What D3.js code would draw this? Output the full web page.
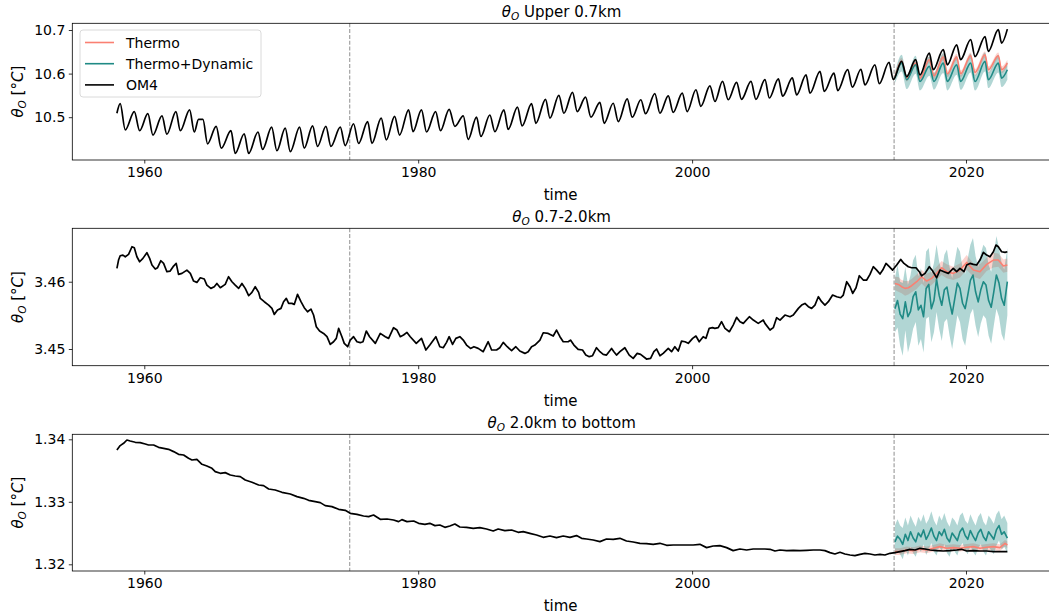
<!DOCTYPE html>
<html>
<head>
<meta charset="utf-8">
<script src="https://cdn.jsdelivr.net/npm/d3@7"></script>
<style>
  body { margin: 0; background: #fff; }
  svg { font-family: "DejaVu Sans", sans-serif; }
</style>
</head>
<body>
<svg id="chart" width="1049" height="615"></svg>
<script>
'use strict';

// OM4 reference run, [year, degC]
var upperOM4 = [
  [1958.00,10.509],[1958.24,10.531],[1958.61,10.471],[1959.27,10.513],[1959.66,10.469],[1960.26,10.508],[1960.63,10.459],
  [1961.29,10.503],[1961.65,10.461],[1962.31,10.513],[1962.63,10.469],[1963.31,10.517],[1963.65,10.466],[1963.96,10.495],
  [1964.28,10.495],[1964.62,10.439],[1965.25,10.479],[1965.62,10.429],[1966.33,10.469],[1966.64,10.417],[1967.30,10.462],
  [1967.62,10.417],[1968.30,10.466],[1968.64,10.426],[1969.30,10.477],[1969.68,10.423],[1970.29,10.475],[1970.66,10.421],
  [1971.34,10.477],[1971.68,10.429],[1972.29,10.480],[1972.65,10.433],[1973.26,10.479],[1973.63,10.433],[1974.31,10.477],
  [1974.67,10.435],[1975.28,10.485],[1975.65,10.440],[1976.31,10.490],[1976.62,10.440],[1977.30,10.498],[1977.67,10.448],
  [1978.28,10.502],[1978.64,10.459],[1979.30,10.517],[1979.62,10.467],[1980.24,10.517],[1980.61,10.466],[1981.27,10.513],
  [1981.63,10.469],[1982.26,10.518],[1982.68,10.479],[1983.29,10.503],[1983.65,10.449],[1984.26,10.500],[1984.58,10.456],
  [1985.23,10.505],[1985.60,10.467],[1986.26,10.517],[1986.57,10.472],[1987.25,10.523],[1987.59,10.480],[1988.28,10.531],
  [1988.59,10.486],[1989.30,10.541],[1989.62,10.498],[1990.27,10.550],[1990.64,10.509],[1991.27,10.557],[1991.61,10.513],
  [1992.22,10.546],[1992.61,10.500],[1993.27,10.534],[1993.58,10.486],[1994.24,10.532],[1994.61,10.490],[1995.26,10.542],
  [1995.63,10.500],[1996.26,10.540],[1996.60,10.508],[1997.28,10.554],[1997.65,10.509],[1998.26,10.549],[1998.62,10.511],
  [1999.28,10.555],[1999.64,10.513],[2000.28,10.563],[2000.64,10.525],[2001.30,10.572],[2001.67,10.536],[2002.22,10.582],
  [2002.64,10.540],[2003.25,10.580],[2003.61,10.541],[2004.30,10.582],[2004.66,10.541],[2005.32,10.586],[2005.64,10.544],
  [2006.30,10.588],[2006.61,10.548],[2007.32,10.590],[2007.63,10.551],[2008.32,10.597],[2008.61,10.555],[2009.34,10.605],
  [2009.65,10.559],[2010.36,10.601],[2010.63,10.561],[2011.36,10.609],[2011.70,10.569],[2012.33,10.610],[2012.62,10.574],
  [2013.35,10.620],[2013.67,10.577],[2014.38,10.626],[2014.69,10.586],[2015.30,10.628],[2015.67,10.593],[2016.32,10.632],
  [2016.64,10.597],[2017.32,10.647],[2017.61,10.609],[2018.34,10.655],[2018.64,10.620],[2019.32,10.666],[2019.61,10.632],
  [2020.34,10.678],[2020.66,10.639],[2021.39,10.685],[2021.63,10.651],[2022.36,10.701],[2022.60,10.670],[2023.02,10.702]
];

var midOM4 = [
  [1958.00,3.46198],[1958.12,3.46322],[1958.24,3.46386],[1958.44,3.46396],[1958.61,3.46371],[1958.85,3.46406],[1959.10,3.46520],
  [1959.27,3.46505],[1959.46,3.46371],[1959.66,3.46297],[1959.90,3.46347],[1960.19,3.46431],[1960.39,3.46347],[1960.56,3.46248],
  [1960.80,3.46188],[1960.97,3.46208],[1961.21,3.46312],[1961.41,3.46272],[1961.65,3.46149],[1961.89,3.46158],[1962.14,3.46233],
  [1962.33,3.46272],[1962.50,3.46109],[1962.75,3.46124],[1963.11,3.46173],[1963.36,3.46124],[1963.60,3.46010],[1963.84,3.45990],
  [1964.09,3.46059],[1964.38,3.46040],[1964.57,3.45950],[1964.86,3.45901],[1965.11,3.45926],[1965.30,3.45975],[1965.55,3.45911],
  [1965.91,3.45960],[1966.15,3.46074],[1966.40,3.46000],[1966.64,3.45950],[1966.89,3.45901],[1967.13,3.45975],[1967.37,3.45901],
  [1967.62,3.45792],[1967.86,3.45842],[1968.10,3.45926],[1968.35,3.45842],[1968.47,3.45752],[1968.76,3.45703],[1969.08,3.45653],
  [1969.32,3.45604],[1969.49,3.45515],[1969.73,3.45579],[1969.98,3.45604],[1970.17,3.45703],[1970.37,3.45752],[1970.54,3.45678],
  [1970.78,3.45678],[1970.95,3.45663],[1971.19,3.45812],[1971.44,3.45703],[1971.68,3.45614],[1971.92,3.45554],[1972.17,3.45594],
  [1972.36,3.45505],[1972.56,3.45331],[1972.80,3.45267],[1973.09,3.45232],[1973.34,3.45183],[1973.58,3.45069],[1973.82,3.45108],
  [1974.02,3.45158],[1974.19,3.45307],[1974.43,3.45183],[1974.60,3.45084],[1974.85,3.45034],[1975.04,3.45133],[1975.28,3.45183],
  [1975.53,3.45108],[1975.77,3.45094],[1975.97,3.45108],[1976.21,3.45267],[1976.45,3.45183],[1976.87,3.45084],[1977.23,3.45232],
  [1977.60,3.45183],[1977.84,3.45158],[1978.20,3.45317],[1978.45,3.45282],[1978.69,3.45183],[1978.93,3.45208],[1979.18,3.45247],
  [1979.42,3.45183],[1979.86,3.45084],[1980.24,3.45158],[1980.56,3.44985],[1980.85,3.45059],[1981.29,3.45183],[1981.58,3.45034],
  [1981.83,3.45019],[1982.07,3.45099],[1982.26,3.45183],[1982.51,3.45069],[1982.75,3.45158],[1983.04,3.45183],[1983.29,3.45133],
  [1983.53,3.45059],[1983.82,3.45009],[1984.07,3.45034],[1984.38,3.45009],[1984.75,3.44960],[1985.11,3.45108],[1985.36,3.44985],
  [1985.72,3.44985],[1985.96,3.45019],[1986.21,3.45099],[1986.50,3.45034],[1986.82,3.44975],[1987.13,3.45034],[1987.42,3.44970],
  [1987.79,3.44935],[1988.03,3.44960],[1988.28,3.45034],[1988.52,3.45059],[1988.89,3.45133],[1989.13,3.45242],[1989.49,3.45232],
  [1989.86,3.45193],[1990.10,3.45282],[1990.35,3.45183],[1990.59,3.45108],[1990.95,3.45108],[1991.12,3.45133],[1991.37,3.45059],
  [1991.68,3.44995],[1992.00,3.44985],[1992.24,3.44910],[1992.49,3.44886],[1992.73,3.44900],[1993.02,3.45019],[1993.27,3.44960],
  [1993.51,3.44920],[1993.75,3.44910],[1994.12,3.45009],[1994.29,3.44960],[1994.48,3.44910],[1994.73,3.44960],[1995.09,3.45019],
  [1995.41,3.44910],[1995.70,3.44861],[1995.99,3.44935],[1996.24,3.44920],[1996.67,3.44851],[1996.97,3.44861],[1997.21,3.44960],
  [1997.41,3.45000],[1997.65,3.44900],[1997.89,3.44935],[1998.26,3.45009],[1998.50,3.44960],[1998.74,3.45034],[1998.99,3.44970],
  [1999.23,3.45118],[1999.48,3.45108],[1999.72,3.45084],[2000.04,3.45158],[2000.28,3.45193],[2000.52,3.45108],[2000.81,3.45183],
  [2001.01,3.45158],[2001.25,3.45307],[2001.49,3.45317],[2001.66,3.45307],[2001.91,3.45317],[2002.15,3.45406],[2002.40,3.45307],
  [2002.72,3.45257],[2003.00,3.45356],[2003.25,3.45470],[2003.50,3.45406],[2003.74,3.45381],[2004.18,3.45480],[2004.47,3.45430],
  [2004.83,3.45381],[2005.20,3.45430],[2005.32,3.45381],[2005.69,3.45282],[2005.93,3.45317],[2006.17,3.45465],[2006.42,3.45430],
  [2006.78,3.45505],[2007.15,3.45480],[2007.39,3.45505],[2007.76,3.45604],[2008.00,3.45653],[2008.24,3.45678],[2008.49,3.45629],
  [2008.73,3.45604],[2008.97,3.45653],[2009.22,3.45777],[2009.46,3.45703],[2009.70,3.45653],[2009.95,3.45703],[2010.26,3.45802],
  [2010.56,3.45777],[2010.85,3.45762],[2011.04,3.45802],[2011.29,3.46000],[2011.53,3.45926],[2011.73,3.45827],[2011.97,3.45911],
  [2012.21,3.46089],[2012.50,3.46025],[2012.75,3.46025],[2012.99,3.46109],[2013.23,3.46223],[2013.48,3.46173],[2013.72,3.46114],
  [2013.92,3.46173],[2014.16,3.46272],[2014.40,3.46223],[2014.64,3.46173],[2014.94,3.46248],[2015.23,3.46332],[2015.47,3.46272],
  [2015.79,3.46223],[2016.03,3.46208],[2016.35,3.46208],[2016.59,3.46149],[2016.76,3.46089],[2017.01,3.46124],[2017.32,3.46223],
  [2017.57,3.46158],[2017.86,3.46059],[2018.10,3.46173],[2018.39,3.46149],[2018.71,3.46124],[2019.07,3.46198],[2019.32,3.46149],
  [2019.56,3.46198],[2019.85,3.46149],[2020.05,3.46248],[2020.29,3.46272],[2020.54,3.46258],[2020.78,3.46248],[2021.02,3.46322],
  [2021.27,3.46436],[2021.51,3.46396],[2021.75,3.46371],[2022.00,3.46446],[2022.19,3.46545],[2022.36,3.46520],[2022.60,3.46446],
  [2022.85,3.46436],[2023.02,3.46446]
];

var deepOM4 = [
  [1958.00,1.33829],[1958.24,1.33899],[1958.49,1.33936],[1958.73,1.33989],[1958.97,1.33973],[1959.34,1.33952],[1959.70,1.33947],
  [1960.07,1.33925],[1960.31,1.33909],[1960.68,1.33909],[1961.04,1.33872],[1961.41,1.33856],[1961.77,1.33840],[1962.14,1.33803],
  [1962.50,1.33760],[1962.87,1.33749],[1963.23,1.33696],[1963.48,1.33669],[1963.84,1.33680],[1964.21,1.33600],[1964.57,1.33573],
  [1964.94,1.33536],[1965.18,1.33483],[1965.55,1.33456],[1965.91,1.33467],[1966.28,1.33429],[1966.64,1.33413],[1967.01,1.33403],
  [1967.37,1.33349],[1967.86,1.33312],[1968.35,1.33269],[1968.71,1.33259],[1969.08,1.33205],[1969.56,1.33189],[1970.05,1.33152],
  [1970.66,1.33125],[1971.15,1.33083],[1971.63,1.33056],[1972.00,1.33024],[1972.48,1.33003],[1972.85,1.32987],[1973.21,1.32939],
  [1973.70,1.32923],[1974.19,1.32880],[1974.67,1.32864],[1975.04,1.32816],[1975.53,1.32800],[1976.01,1.32773],[1976.38,1.32763],
  [1976.74,1.32789],[1977.23,1.32720],[1977.72,1.32725],[1978.20,1.32709],[1978.57,1.32683],[1978.81,1.32715],[1979.18,1.32683],
  [1979.67,1.32693],[1980.03,1.32656],[1980.49,1.32640],[1980.85,1.32656],[1981.22,1.32619],[1981.58,1.32629],[1981.95,1.32592],
  [1982.31,1.32613],[1982.68,1.32645],[1983.04,1.32597],[1983.53,1.32592],[1984.02,1.32576],[1984.50,1.32587],[1984.99,1.32565],
  [1985.48,1.32533],[1985.84,1.32565],[1986.33,1.32539],[1986.82,1.32549],[1987.30,1.32512],[1987.67,1.32523],[1988.15,1.32496],
  [1988.64,1.32469],[1989.13,1.32432],[1989.62,1.32453],[1990.10,1.32427],[1990.59,1.32453],[1991.08,1.32432],[1991.56,1.32459],
  [1991.93,1.32416],[1992.29,1.32405],[1992.78,1.32389],[1993.27,1.32363],[1993.75,1.32405],[1994.24,1.32400],[1994.73,1.32416],
  [1995.21,1.32373],[1995.70,1.32357],[1996.19,1.32336],[1996.67,1.32331],[1997.16,1.32320],[1997.65,1.32336],[1998.14,1.32304],
  [1998.62,1.32309],[1999.11,1.32309],[1999.60,1.32309],[2000.08,1.32309],[2000.57,1.32320],[2001.06,1.32267],[2001.54,1.32293],
  [2002.03,1.32299],[2002.52,1.32267],[2003.00,1.32219],[2003.49,1.32245],[2003.98,1.32229],[2004.46,1.32245],[2005.32,1.32245],
  [2005.69,1.32240],[2006.05,1.32213],[2006.42,1.32229],[2006.90,1.32219],[2007.39,1.32224],[2007.88,1.32219],[2008.36,1.32224],
  [2008.85,1.32229],[2009.34,1.32229],[2009.70,1.32219],[2010.07,1.32187],[2010.43,1.32165],[2010.80,1.32192],[2011.16,1.32165],
  [2011.53,1.32149],[2011.89,1.32139],[2012.26,1.32160],[2012.62,1.32176],[2012.99,1.32165],[2013.35,1.32149],[2013.72,1.32160],
  [2014.08,1.32149],[2014.45,1.32176],[2014.81,1.32187],[2015.18,1.32203],[2015.55,1.32219],[2015.91,1.32240],[2016.28,1.32229],
  [2016.64,1.32256],[2017.01,1.32245],[2017.37,1.32229],[2017.86,1.32219],[2018.34,1.32213],[2018.83,1.32219],[2019.32,1.32229],
  [2019.68,1.32240],[2020.05,1.32213],[2020.54,1.32219],[2021.02,1.32213],[2021.51,1.32213],[2022.00,1.32203],[2022.48,1.32203],
  [2023.02,1.32203]
];

// emulator ensembles from the split date on
var ensTimeUpper = [2014.81,2015.30,2015.67,2016.32,2016.64,2017.32,2017.66,2018.34,2018.64,2019.32,2019.61,2020.34,2020.66,2021.39,2021.63,2022.36,2022.60,2023.02];
var thermoUpper   = [10.5920,10.6280,10.5897,10.6241,10.5897,10.6318,10.5950,10.6379,10.5996,10.6379,10.5996,10.6410,10.6027,10.6433,10.6088,10.6410,10.6088,10.6241];
var thermoUpperHi = [10.5996,10.6356,10.5973,10.6318,10.5973,10.6395,10.6027,10.6456,10.6073,10.6456,10.6073,10.6487,10.6103,10.6510,10.6165,10.6487,10.6165,10.6318];
var thermoUpperLo = [10.5843,10.6203,10.5820,10.6165,10.5820,10.6241,10.5874,10.6303,10.5920,10.6303,10.5920,10.6333,10.5950,10.6356,10.6011,10.6333,10.6011,10.6165];
var dynUpper   = [10.5897,10.6241,10.5858,10.6203,10.5820,10.6165,10.5820,10.6241,10.5820,10.6203,10.5820,10.6241,10.5820,10.6280,10.5858,10.6241,10.5897,10.6088];
var dynUpperHi = [10.6011,10.6433,10.5973,10.6410,10.5996,10.6395,10.6011,10.6471,10.5996,10.6410,10.5973,10.6456,10.5973,10.6487,10.6027,10.6433,10.6050,10.6280];
var dynUpperLo = [10.5782,10.6050,10.5644,10.5996,10.5613,10.5950,10.5628,10.6011,10.5613,10.5973,10.5628,10.6027,10.5613,10.6050,10.5667,10.6027,10.5690,10.5858];

var ensTimeMid = [2014.81,2015.06,2015.30,2015.55,2015.79,2016.03,2016.40,2016.76,2017.13,2017.49,2017.86,2018.22,2018.59,2019.07,2019.56,2020.05,2020.54,2021.02,2021.51,2022.00,2022.36,2022.73,2023.02];
var thermoMid   = [3.45975,3.45960,3.45926,3.45901,3.45911,3.45941,3.46000,3.46074,3.46010,3.46050,3.46124,3.46208,3.46149,3.46124,3.46173,3.46287,3.46173,3.46149,3.46258,3.46322,3.46322,3.46233,3.46248];
var thermoMidHi = [3.46074,3.46069,3.46025,3.46010,3.46010,3.46040,3.46109,3.46173,3.46119,3.46149,3.46223,3.46307,3.46258,3.46223,3.46272,3.46396,3.46272,3.46258,3.46357,3.46431,3.46421,3.46332,3.46347];
var thermoMidLo = [3.45876,3.45851,3.45827,3.45792,3.45812,3.45842,3.45891,3.45975,3.45901,3.45951,3.46025,3.46099,3.46050,3.46025,3.46064,3.46178,3.46074,3.46040,3.46159,3.46213,3.46223,3.46134,3.46149];

// Thermo+Dynamic is noisier, read at a finer step
var ensTimeFine = [2014.81,2015.00,2015.19,2015.38,2015.57,2015.76,2015.95,2016.14,2016.33,2016.52,2016.71,2016.90,2017.09,2017.28,2017.47,
  2017.66,2017.85,2018.04,2018.23,2018.42,2018.61,2018.80,2018.99,2019.18,2019.37,2019.56,2019.75,2019.94,2020.13,2020.32,2020.51,
  2020.70,2020.89,2021.08,2021.27,2021.46,2021.65,2021.84,2022.03,2022.22,2022.41,2022.60,2022.79,2023.02];
var dynMid = [3.4560,3.4572,3.4552,3.4545,3.4570,3.4548,3.4556,3.4578,3.4585,3.4558,3.4565,3.4548,3.4590,3.4596,3.4560,
  3.4572,3.4604,3.4580,3.4565,3.4588,3.4592,3.4570,3.4552,3.4575,3.4598,3.4590,3.4568,3.4560,3.4580,3.4602,3.4610,
  3.4585,3.4570,3.4588,3.4600,3.4595,3.4572,3.4562,3.4585,3.4610,3.4598,3.4575,3.4565,3.4600];
var dynMidHi = [3.4605,3.4625,3.4600,3.4598,3.4622,3.4595,3.4610,3.4632,3.4640,3.4608,3.4620,3.4598,3.4645,3.4650,3.4612,
  3.4628,3.4655,3.4630,3.4615,3.4640,3.4648,3.4622,3.4605,3.4630,3.4652,3.4645,3.4620,3.4612,3.4635,3.4655,3.4665,
  3.4638,3.4622,3.4642,3.4655,3.4650,3.4625,3.4615,3.4640,3.4668,3.4650,3.4628,3.4618,3.4650];
var dynMidLo = [3.4525,3.4532,3.4505,3.4490,3.4528,3.4495,3.4510,3.4530,3.4540,3.4505,3.4515,3.4495,3.4545,3.4548,3.4510,
  3.4525,3.4555,3.4530,3.4512,3.4540,3.4545,3.4520,3.4500,3.4525,3.4550,3.4540,3.4515,3.4505,3.4530,3.4552,3.4560,
  3.4535,3.4518,3.4538,3.4550,3.4545,3.4520,3.4508,3.4535,3.4560,3.4548,3.4522,3.4512,3.4550];

var ensTimeDeep = [2014.81,2015.18,2015.67,2016.15,2016.64,2017.13,2017.61,2018.10,2018.59,2019.07,2019.56,2020.05,2020.54,2021.02,2021.51,2022.00,2022.48,2022.85,2023.02];
var thermoDeep   = [1.32203,1.32203,1.32229,1.32219,1.32245,1.32229,1.32256,1.32283,1.32256,1.32267,1.32256,1.32272,1.32283,1.32256,1.32272,1.32283,1.32267,1.32336,1.32309];
var thermoDeepHi = [1.32256,1.32256,1.32283,1.32272,1.32299,1.32283,1.32309,1.32336,1.32309,1.32320,1.32309,1.32325,1.32336,1.32309,1.32325,1.32336,1.32320,1.32389,1.32363];
var thermoDeepLo = [1.32149,1.32149,1.32176,1.32165,1.32192,1.32176,1.32203,1.32229,1.32203,1.32213,1.32203,1.32219,1.32229,1.32203,1.32219,1.32229,1.32213,1.32283,1.32256];
var dynDeep = [1.3236,1.3245,1.3240,1.3232,1.3248,1.3238,1.3252,1.3242,1.3236,1.3250,1.3244,1.3255,1.3240,1.3248,1.3258,
  1.3245,1.3238,1.3252,1.3246,1.3256,1.3242,1.3236,1.3250,1.3244,1.3238,1.3252,1.3258,1.3246,1.3240,1.3254,1.3245,
  1.3238,1.3250,1.3256,1.3244,1.3238,1.3252,1.3246,1.3240,1.3255,1.3262,1.3248,1.3252,1.3242];
var dynDeepHi = [1.3262,1.3272,1.3262,1.3258,1.3275,1.3262,1.3278,1.3268,1.3260,1.3276,1.3268,1.3280,1.3265,1.3272,1.3285,
  1.3270,1.3262,1.3278,1.3270,1.3282,1.3268,1.3260,1.3275,1.3270,1.3262,1.3278,1.3283,1.3270,1.3265,1.3280,1.3270,
  1.3262,1.3276,1.3282,1.3268,1.3262,1.3278,1.3272,1.3265,1.3280,1.3286,1.3272,1.3278,1.3266];
var dynDeepLo = [1.3215,1.3222,1.3216,1.3208,1.3225,1.3214,1.3228,1.3218,1.3212,1.3226,1.3220,1.3232,1.3215,1.3224,1.3234,
  1.3220,1.3214,1.3228,1.3222,1.3232,1.3218,1.3212,1.3226,1.3220,1.3214,1.3228,1.3234,1.3222,1.3216,1.3230,1.3220,
  1.3214,1.3226,1.3232,1.3220,1.3214,1.3228,1.3222,1.3216,1.3230,1.3238,1.3224,1.3228,1.3218];

var splitYears = [1975.0, 2014.75];
var xTicks = [1960, 1980, 2000, 2020];
var panelTitles = ['Upper 0.7km', '0.7-2.0km', '2.0km to bottom'];
var yTicksUpper = [10.5, 10.6, 10.7];
var yTicksMid = [3.45, 3.46];
var yTicksDeep = [1.32, 1.33, 1.34];
var legendLabels = ['Thermo', 'Thermo+Dynamic', 'OM4'];

var colors = { thermo: '#fa8072', dyn: '#1f8a85', om4: '#000' };

function ensemble(t, mean, lo, hi) {
  return t.map(function(d, i) { return { t: d, mean: mean[i], lo: lo[i], hi: hi[i] }; });
}

var panels = [
  { title: panelTitles[0], om4: upperOM4, yDomain: [10.4018, 10.7154], yTicks: yTicksUpper, fmt: '.1f',
    top: 23.3, bottom: 160, curve: d3.curveMonotoneX,
    thermo: ensemble(ensTimeUpper, thermoUpper, thermoUpperLo, thermoUpperHi),
    dyn: ensemble(ensTimeUpper, dynUpper, dynUpperLo, dynUpperHi) },
  { title: panelTitles[1], om4: midOM4, yDomain: [3.44752, 3.46794], yTicks: yTicksMid, fmt: '.2f',
    top: 228.3, bottom: 365.7, curve: d3.curveLinear,
    thermo: ensemble(ensTimeMid, thermoMid, thermoMidLo, thermoMidHi),
    dyn: ensemble(ensTimeFine, dynMid, dynMidLo, dynMidHi) },
  { title: panelTitles[2], om4: deepOM4, yDomain: [1.31893, 1.3408], yTicks: yTicksDeep, fmt: '.2f',
    top: 434.3, bottom: 571, curve: d3.curveLinear,
    thermo: ensemble(ensTimeDeep, thermoDeep, thermoDeepLo, thermoDeepHi),
    dyn: ensemble(ensTimeFine, dynDeep, dynDeepLo, dynDeepHi) }
];

var left = 72.3, right = 1051;
var svg = d3.select('#chart');

var x = d3.scaleLinear().domain([1954.743, 2026.207]).range([left, right]);

svg.append('defs').append('clipPath').attr('id', 'plotclip')
  .append('rect').attr('x', left).attr('y', 0).attr('width', right - left).attr('height', 615);

panels.forEach(function(p) {
  var y = d3.scaleLinear().domain(p.yDomain).range([p.bottom, p.top]);
  var g = svg.append('g');
  var plot = g.append('g').attr('clip-path', 'url(#plotclip)');

  // split markers
  plot.selectAll('line.split').data(splitYears).enter().append('line')
    .attr('x1', function(d) { return x(d); }).attr('x2', function(d) { return x(d); })
    .attr('y1', p.top).attr('y2', p.bottom)
    .attr('stroke', '#9a9a9a').attr('stroke-width', 1.1).attr('stroke-dasharray', '4,1.8');

  var area = d3.area().curve(p.curve)
    .x(function(d) { return x(d.t); }).y0(function(d) { return y(d.lo); }).y1(function(d) { return y(d.hi); });
  var meanLine = d3.line().curve(p.curve)
    .x(function(d) { return x(d.t); }).y(function(d) { return y(d.mean); });
  var om4Line = d3.line().curve(p.curve)
    .x(function(d) { return x(d[0]); }).y(function(d) { return y(d[1]); });

  plot.append('path').datum(p.thermo).attr('d', area).attr('fill', colors.thermo).attr('fill-opacity', 0.35);
  plot.append('path').datum(p.dyn).attr('d', area).attr('fill', colors.dyn).attr('fill-opacity', 0.35);
  plot.append('path').datum(p.thermo).attr('d', meanLine).attr('fill', 'none')
    .attr('stroke', colors.thermo).attr('stroke-width', 1.6).attr('stroke-linejoin', 'round');
  plot.append('path').datum(p.dyn).attr('d', meanLine).attr('fill', 'none')
    .attr('stroke', colors.dyn).attr('stroke-width', 1.6).attr('stroke-linejoin', 'round');
  plot.append('path').datum(p.om4).attr('d', om4Line).attr('fill', 'none')
    .attr('stroke', colors.om4).attr('stroke-width', 1.7).attr('stroke-linejoin', 'round');

  // axes
  var xAxis = d3.axisBottom(x).tickValues(xTicks).tickFormat(d3.format('d')).tickSize(3.5).tickPadding(3.5);
  var yAxis = d3.axisLeft(y).tickValues(p.yTicks).tickFormat(d3.format(p.fmt)).tickSize(3.5).tickPadding(3.5);

  var gx = g.append('g').attr('transform', 'translate(0,' + p.bottom + ')').call(xAxis);
  var gy = g.append('g').attr('transform', 'translate(' + left + ',0)').call(yAxis);
  [gx, gy].forEach(function(a) {
    a.select('.domain').remove();
    a.selectAll('.tick line').attr('stroke', '#000').attr('stroke-width', 0.8);
    a.selectAll('.tick text').attr('fill', '#000').style('font-size', '14px').style('font-family', 'DejaVu Sans');
  });

  // spines
  g.append('rect').attr('x', left).attr('y', p.top).attr('width', right - left).attr('height', p.bottom - p.top)
    .attr('fill', 'none').attr('stroke', '#000').attr('stroke-width', 0.8);

  // title
  var title = g.append('text').attr('x', (left + right) / 2).attr('y', p.top - 6)
    .attr('text-anchor', 'middle').style('font-size', '15px');
  title.append('tspan').style('font-style', 'italic').text('θ');
  title.append('tspan').style('font-style', 'italic').style('font-size', '10.5px').attr('dy', 3).text('O');
  title.append('tspan').attr('dy', -3).text(' ' + p.title);

  // x label
  g.append('text').attr('x', (left + right) / 2 - 1).attr('y', p.bottom + 40)
    .attr('text-anchor', 'middle').style('font-size', '15px').text('time');

  // y label
  var yl = g.append('text').attr('transform', 'translate(23,' + ((p.top + p.bottom) / 2) + ') rotate(-90)')
    .attr('text-anchor', 'middle').style('font-size', '15px');
  yl.append('tspan').style('font-style', 'italic').text('θ');
  yl.append('tspan').style('font-style', 'italic').style('font-size', '10.5px').attr('dy', 3).text('O');
  yl.append('tspan').attr('dy', -3).text(' [°');
  yl.append('tspan').style('font-style', 'italic').text('C');
  yl.append('tspan').text(']');
});

// legend in the top panel
var legend = svg.append('g').attr('transform', 'translate(80,30)');
legend.append('rect').attr('width', 181).attr('height', 67).attr('rx', 3)
  .attr('fill', '#fff').attr('fill-opacity', 0.8).attr('stroke', '#d0d0d0').attr('stroke-width', 0.8);
var legendColors = [colors.thermo, colors.dyn, colors.om4];
legendLabels.forEach(function(label, i) {
  var row = legend.append('g').attr('transform', 'translate(0,' + (12.5 + i * 21.2) + ')');
  row.append('line').attr('x1', 5).attr('x2', 34).attr('stroke', legendColors[i]).attr('stroke-width', 1.6);
  row.append('text').attr('x', 46).attr('dy', '0.36em').style('font-size', '14px').text(label);
});
</script>
</body>
</html>
